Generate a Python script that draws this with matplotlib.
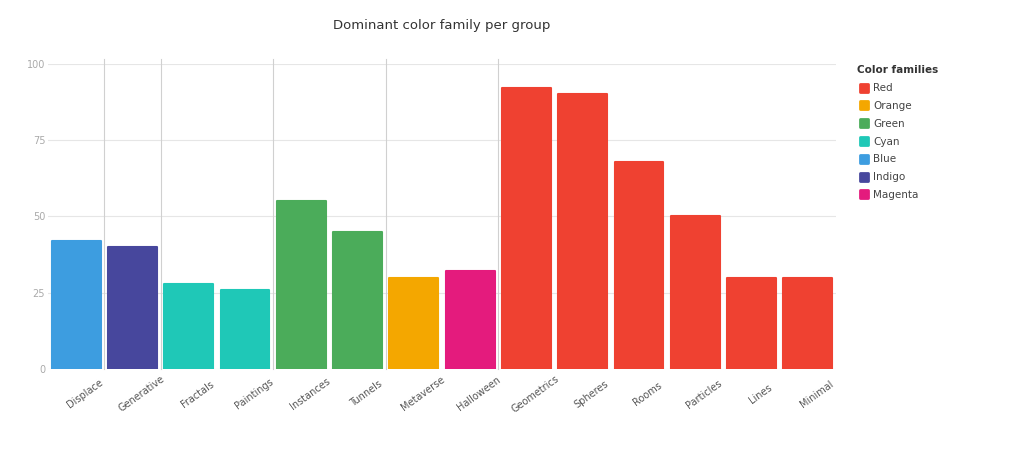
import matplotlib.pyplot as plt
from matplotlib.lines import Line2D
from matplotlib.markers import MarkerStyle
from matplotlib.transforms import ScaledTranslation

# Данные с картинки
groups = ['Displace', 'Generative', 'Fractals', 'Paintings', 'Instances', 'Tunnels', 'Metaverse',
          'Halloween', 'Geometrics', 'Spheres', 'Rooms', 'Particles', 'Lines', 'Minimal']
values = [42, 40, 28, 26, 55, 45, 30, 32, 92, 90, 68, 50, 30, 30]
families = ['Blue', 'Indigo', 'Cyan', 'Cyan', 'Green', 'Green', 'Orange', 'Magenta',
            'Red', 'Red', 'Red', 'Red', 'Red', 'Red']
legend_names = ['Red', 'Orange', 'Green', 'Cyan', 'Blue', 'Indigo', 'Magenta']
y_ticks = [0, 25, 50, 75, 100]

palette = {'Red': '#ef4131', 'Orange': '#f4a700', 'Green': '#4bac5a', 'Cyan': '#1fc8b7',
           'Blue': '#3d9de0', 'Indigo': '#47479d', 'Magenta': '#e41b7d'}

fig = plt.figure(figsize=(10.24, 4.67), dpi=100)
ax = fig.add_axes([48 / 1024, 1 - 369 / 467, (836 - 48) / 1024, (369 - 64) / 467])

x = list(range(len(groups)))
cols = [palette[f] for f in families]
bars = ax.bar(x, values, width=0.87, color=cols, edgecolor=cols, linewidth=1.5, zorder=3)
for b in bars:
    b.set_joinstyle('round')

ax.set_xlim(-0.5, len(groups) - 0.5)
ax.set_ylim(0, 100)
ax.set_yticks(y_ticks)
ax.set_yticklabels([str(t) for t in y_ticks], fontsize=7, color='#aaaaaa')
ax.tick_params(axis='y', length=0, pad=2)
ax.tick_params(axis='x', length=0, pad=18)
ax.set_xticks(x)
ax.set_xticklabels(groups, rotation=36, ha='center', va='center', rotation_mode='anchor',
                   fontsize=7, color='#555555')
# подписи чуть правее центра столбика
shift = ScaledTranslation(9 / 100, 0, fig.dpi_scale_trans)
for lbl in ax.get_xticklabels():
    lbl.set_transform(lbl.get_transform() + shift)

for t in y_ticks:
    ax.axhline(t, color='#e6e6e6', linewidth=0.8, zorder=1)
# вертикальные линии между группами
for pos in [0.5, 1.5, 3.5, 5.5, 7.5]:
    ax.plot([pos, pos], [0, 101.5], color='#d0d0d0', linewidth=0.8, zorder=1, clip_on=False)

for s in ax.spines.values():
    s.set_visible(False)

fig.text(442 / 1024, 1 - 26 / 467, 'Dominant color family per group', ha='center', va='center',
         fontsize=9.5, color='#333333')

handles = [Line2D([], [], linestyle='none', marker=MarkerStyle('s', joinstyle='round'),
                  markersize=6, markerfacecolor=palette[n], markeredgecolor=palette[n],
                  markeredgewidth=2, label=n) for n in legend_names]
leg = fig.legend(handles=handles, loc='upper left', bbox_to_anchor=(848 / 1024, 1 - 56 / 467),
                 title='Color families', frameon=False, fontsize=7.5, title_fontsize=7.5,
                 alignment='left', labelspacing=0.75, handletextpad=0.3, handlelength=1.2)
leg.get_title().set_fontweight('bold')
leg.get_title().set_color('#333333')
for t in leg.get_texts():
    t.set_color('#444444')

fig.savefig('out.png', dpi=100)
